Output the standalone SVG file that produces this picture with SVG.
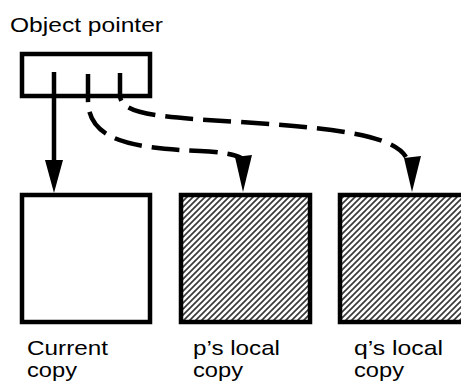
<svg xmlns="http://www.w3.org/2000/svg" width="461" height="385" viewBox="0 0 461 385">
  <style>
    .box { fill: #fff; stroke: #000; stroke-width: 4.5; }
    .hatched { fill: url(#hatch); stroke: #000; stroke-width: 4.5; }
    .label { font-family: "Liberation Sans", Arial, sans-serif; font-size: 21px; fill: #000; }
    .solid { fill: none; stroke: #000; stroke-width: 4.5; }
    .dashed { fill: none; stroke: #000; stroke-width: 4.5; stroke-dasharray: 28 10; }
    .head { fill: #000; }
  </style>
  <defs>
    <pattern id="hatch" patternUnits="userSpaceOnUse" width="6" height="6">
      <rect width="6" height="6" fill="#fff"/>
      <path d="M-1,1 l2,-2 M0,6 l6,-6 M5,7 l2,-2" stroke="#3a3a3a" stroke-width="1.7"/>
    </pattern>
  </defs>

  <g id="pointer">
    <rect class="box" x="22" y="54" width="128" height="42"/>
    <text class="label" x="10" y="32" textLength="153" lengthAdjust="spacingAndGlyphs">Object pointer</text>
  </g>

  <g id="current">
    <rect class="box" x="22" y="195" width="128" height="127"/>
    <text class="label" x="27" y="355" textLength="81" lengthAdjust="spacingAndGlyphs">Current</text>
    <text class="label" x="27" y="377" textLength="50" lengthAdjust="spacingAndGlyphs">copy</text>
  </g>

  <g id="p-local">
    <rect class="hatched" x="181" y="195" width="129" height="127"/>
    <text class="label" x="193" y="355" textLength="87" lengthAdjust="spacingAndGlyphs">p’s local</text>
    <text class="label" x="193" y="377" textLength="50" lengthAdjust="spacingAndGlyphs">copy</text>
  </g>

  <g id="q-local">
    <rect class="hatched" x="340" y="195" width="129" height="127"/>
    <text class="label" x="354" y="355" textLength="89" lengthAdjust="spacingAndGlyphs">q’s local</text>
    <text class="label" x="354" y="377" textLength="50" lengthAdjust="spacingAndGlyphs">copy</text>
  </g>

  <g id="connectors">
    <path class="solid" d="M54,72 L54,162"/>
    <path class="head" d="M45,160 L63,160 L54,193 Z"/>

    <path class="dashed" d="M88,74 L88,100 C88,140 130,148 200,151 C232,152 243,158 243,160"/>
    <path class="head" d="M235,157 L252,155 L243,192 Z"/>

    <path class="dashed" d="M120,73 L120,95 C120,115 160,117 240,122 C330,128 392,134 406,157"/>
    <path class="head" d="M404,158 L421,156 L412,192 Z"/>
  </g>
</svg>
